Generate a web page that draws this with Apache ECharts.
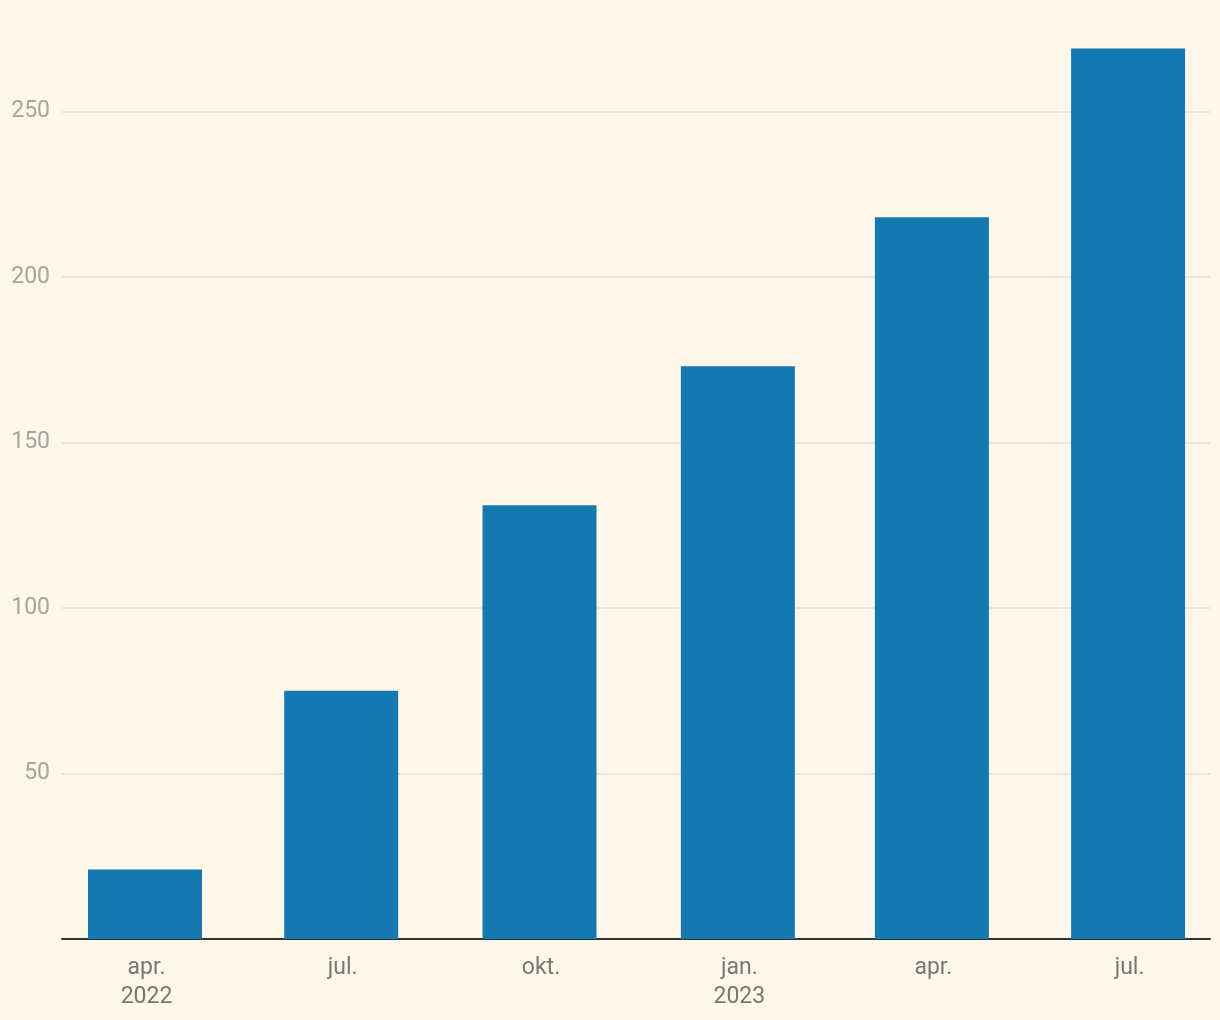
<!DOCTYPE html>
<html>
<head>
<meta charset="utf-8">
<script src="https://cdn.jsdelivr.net/npm/echarts@6/dist/echarts.min.js"></script>
<style>
html,body{margin:0;padding:0;background:#fff7ea;}
#c{width:1220px;height:1020px;}
</style>
</head>
<body>
<div id="c"></div>
<script>
const dates = ['2022-04-01','2022-07-01','2022-10-01','2023-01-01','2023-04-01','2023-07-01'];
const values = [21, 75, 131, 173, 218, 269];
const tickLabels = ['apr.\n2022','jul.','okt.','jan.\n2023','apr.','jul.'];

const ts = dates.map(d => Date.parse(d + 'T00:00:00Z'));
const DAY = 86400000;
const gridColor = '#e6dfd3';
const chart = echarts.init(document.getElementById('c'));
chart.setOption({
  backgroundColor: '#fff7ea',
  animation: false,
  grid: { left: 62, right: 10, top: 12, bottom: 81, containLabel: false },
  xAxis: {
    type: 'value',
    min: ts[0] - 38.5 * DAY,
    max: ts[ts.length - 1] + 38 * DAY,
    axisLine: { show: true, onZero: false, lineStyle: { color: '#333', width: 2 } },
    axisTick: { show: false },
    splitLine: { show: false },
    axisLabel: {
      customValues: ts,
      formatter: function (v) { const i = ts.indexOf(v); return i >= 0 ? tickLabels[i] : ''; },
      color: '#7a7670',
      fontFamily: 'Roboto',
      fontSize: 23,
      lineHeight: 29,
      margin: 15,
      padding: [0, 0, 0, 3],
      hideOverlap: false
    }
  },
  yAxis: {
    type: 'value',
    min: 0,
    max: 280,
    interval: 50,
    axisLine: { show: false },
    axisTick: { show: false },
    splitLine: { lineStyle: { color: [gridColor, gridColor, gridColor, gridColor, gridColor, gridColor, 'rgba(0,0,0,0)'], width: 1.5 } },
    axisLabel: {
      formatter: function (v) { return (v === 0 || v % 50 !== 0) ? '' : String(v); },
      color: '#a8a39c',
      fontFamily: 'Roboto',
      fontSize: 23,
      margin: 12
    }
  },
  series: [{
    type: 'bar',
    data: ts.map((t, i) => [t, values[i]]),
    barWidth: 114,
    itemStyle: { color: '#1379b0' }
  }]
});
</script>
</body>
</html>
